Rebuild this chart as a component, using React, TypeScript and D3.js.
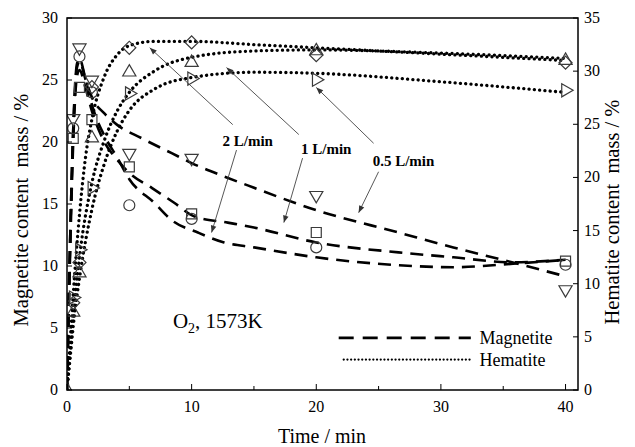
import React from "react";
import * as d3 from "d3";

// measured markers, magnetite (left axis)
const magTimes = [0.5, 1, 2, 5, 10, 20, 40];
const magCircle = [21.1, 26.9, 24.0, 14.9, 13.8, 11.5, 10.1]; // 2 L/min
const magSquare = [20.3, 24.4, 21.8, 18.0, 14.2, 12.7, 10.4]; // 1 L/min
const magDown = [21.9, 27.6, 25.0, 19.1, 18.7, 15.7, 8.1]; // 0.5 L/min

// measured markers, hematite (right axis)
const hemTimes = [0, 0.5, 1, 2, 5, 10, 20, 40];
const hemDiamond = [null, 8.2, 12.0, 28.5, 32.2, 32.7, 31.5, 30.8]; // 2 L/min
const hemUp = [0, 7.3, 11.0, 23.7, 29.9, 30.8, 31.9, 31.0]; // 1 L/min
const hemRight = [null, 8.7, 13.2, 19.0, 27.9, 29.3, 29.2, 28.2]; // 0.5 L/min

// fitted curves, magnetite
const fitMag2T = [0, 0.25, 0.5, 0.8, 1, 1.5, 2, 3, 4, 5, 7, 8.4, 10.5, 12.6, 15, 20, 26, 31, 36, 40];
const fitMag2V = [0, 12, 21, 26.3, 26.7, 25, 23, 20.5, 18.8, 17, 15.1, 13.7, 12.7, 11.9, 11.5, 10.7, 10.1, 9.9, 10.2, 10.5];
const fitMag1T = [0, 0.25, 0.5, 0.8, 1, 1.5, 2, 3, 4, 5, 6.8, 8.6, 10.2, 12.9, 15, 20, 26.6, 31, 35.7, 40];
const fitMag1V = [0, 11, 20, 25.3, 25.8, 24.3, 22.5, 20, 18.6, 17.5, 16.3, 15.1, 14.0, 13.5, 13.1, 11.9, 11.1, 10.7, 10.3, 10.5];
const fitMag05T = [0, 0.25, 0.5, 0.8, 1, 1.5, 2, 3, 4, 6, 8.4, 10, 12.4, 14.5, 20, 26.6, 31, 35.7, 39.5];
const fitMag05V = [0, 12, 21, 26, 26.5, 25, 23.6, 22.3, 21.4, 20.3, 19.1, 18.3, 17.3, 16.5, 14.5, 12.7, 11.5, 10.3, 9.3];

// fitted curves, hematite
const fitHem2T = [0, 0.25, 0.5, 1, 1.5, 2, 3, 4, 5, 7, 10, 15, 20, 30, 40];
const fitHem2V = [0, 4.5, 9, 16.5, 22, 25.5, 29.5, 31.5, 32.4, 32.8, 32.8, 32.5, 32.2, 31.6, 31.0];
const fitHem1T = [0, 0.25, 0.5, 1, 2, 3, 4, 5, 7, 10, 15, 20, 30, 40];
const fitHem1V = [0, 3.5, 7, 12.5, 19.5, 23.5, 26.2, 28, 30, 31.3, 31.9, 32.0, 31.7, 31.2];
const fitHem05T = [0, 0.25, 0.5, 1, 2, 3, 4, 5, 7, 10, 15, 20, 30, 40];
const fitHem05V = [0, 3, 6, 10.5, 17, 21.3, 24.3, 26.3, 28.3, 29.4, 29.9, 29.8, 29.0, 28.0];

const xTicks = [0, 10, 20, 30, 40];
const xMinor = [5, 15, 25, 35];
const leftTicks = [0, 5, 10, 15, 20, 25, 30];
const rightTicks = [0, 5, 10, 15, 20, 25, 30, 35];

// annotations in (time, magnetite %) units
const flowLabels = [
  { text: "2 L/min", t: 14.5, v: 19.7 },
  { text: "1 L/min", t: 20.8, v: 19.0 },
  { text: "0.5 L/min", t: 27.0, v: 18.1 },
];
const arrows = [
  [13.3, 21.4, 6.64, 27.6],
  [13.6, 19.35, 11.6, 12.7],
  [18.6, 20.6, 12.8, 26.0],
  [18.9, 18.7, 17.4, 13.5],
  [24.6, 19.9, 20.0, 24.4],
  [25.0, 17.6, 23.4, 14.3],
];

const width = 635;
const height = 447;
const margin = { top: 18, right: 57, bottom: 57, left: 67 };
const serif = { fontFamily: "'Liberation Serif', 'Times New Roman', Times, serif" };

export default function App() {
  const x = d3.scaleLinear().domain([0, 41]).range([margin.left, width - margin.right]);
  const yL = d3.scaleLinear().domain([0, 30]).range([height - margin.bottom, margin.top]);
  const yR = d3.scaleLinear().domain([0, 35]).range([height - margin.bottom, margin.top]);
  const x0 = x(0), x1 = x(41), yb = yL(0), yt = yL(30);

  const lineL = d3.line<[number, number]>().x(d => x(d[0])).y(d => yL(d[1])).curve(d3.curveMonotoneX);
  const lineR = d3.line<[number, number]>().x(d => x(d[0])).y(d => yR(d[1])).curve(d3.curveMonotoneX);
  const zip = (t: number[], v: number[]) => t.map((d, i) => [d, v[i]] as [number, number]);

  const dash = "13 8";
  const dot = "0.1 5.2";

  const symPath = (type: d3.SymbolType, size: number) => d3.symbol().type(type).size(size)() as string;
  const circ = symPath(d3.symbolCircle, 95);
  const sq = symPath(d3.symbolSquare, 100);
  const dia = symPath(d3.symbolSquare, 85);
  const tri = symPath(d3.symbolTriangle, 75);

  const markers = (
    times: number[],
    vals: (number | null)[],
    y: d3.ScaleLinear<number, number>,
    path: string,
    rot: number,
    key: string
  ) =>
    times.map((t, i) =>
      vals[i] == null ? null : (
        <path
          key={key + i}
          d={path}
          transform={`translate(${x(t)},${y(vals[i] as number)}) rotate(${rot})`}
          fill="none"
          stroke="#3a3a3a"
          strokeWidth={1.2}
        />
      )
    );

  return (
    <svg width={width} height={height} style={{ position: "absolute", left: 0, top: 0, background: "#fff", ...serif }}>
      <defs>
        <marker id="ah" viewBox="0 0 10 10" refX="10" refY="5" markerWidth="9" markerHeight="7" orient="auto" markerUnits="userSpaceOnUse">
          <path d="M0,1 L10,5 L0,9 Z" fill="#333" />
        </marker>
        <clipPath id="plot">
          <rect x={x0} y={yt} width={x1 - x0} height={yb - yt} />
        </clipPath>
      </defs>

      <g clipPath="url(#plot)">
        <path d={lineL(zip(fitMag2T, fitMag2V)) as string} fill="none" stroke="#000" strokeWidth={2.6} strokeDasharray={dash} />
        <path d={lineL(zip(fitMag1T, fitMag1V)) as string} fill="none" stroke="#000" strokeWidth={2.6} strokeDasharray={dash} />
        <path d={lineL(zip(fitMag05T, fitMag05V)) as string} fill="none" stroke="#000" strokeWidth={2.6} strokeDasharray={dash} />
        <path d={lineR(zip(fitHem2T, fitHem2V)) as string} fill="none" stroke="#000" strokeWidth={3.3} strokeDasharray={dot} strokeLinecap="round" />
        <path d={lineR(zip(fitHem1T, fitHem1V)) as string} fill="none" stroke="#000" strokeWidth={3.3} strokeDasharray={dot} strokeLinecap="round" />
        <path d={lineR(zip(fitHem05T, fitHem05V)) as string} fill="none" stroke="#000" strokeWidth={3.3} strokeDasharray={dot} strokeLinecap="round" />

        {markers(magTimes, magCircle, yL, circ, 0, "c")}
        {markers(magTimes, magSquare, yL, sq, 0, "s")}
        {markers(magTimes, magDown, yL, tri, 180, "d")}
        {markers(hemTimes, hemDiamond, yR, dia, 45, "di")}
        {markers(hemTimes, hemUp, yR, tri, 0, "u")}
        {markers(hemTimes, hemRight, yR, tri, 90, "r")}
      </g>

      {arrows.map((a, i) => (
        <line key={"a" + i} x1={x(a[0])} y1={yL(a[1])} x2={x(a[2])} y2={yL(a[3])} stroke="#444" strokeWidth={0.9} markerEnd="url(#ah)" />
      ))}
      {flowLabels.map(l => (
        <text key={l.text} x={x(l.t)} y={yL(l.v)} textAnchor="middle" fontSize={15} fontWeight="bold" style={serif}>
          {l.text}
        </text>
      ))}

      <text x={x(8.5)} y={yL(5.0)} fontSize={21} style={serif}>
        O<tspan fontSize={14} dy={5}>2</tspan>
        <tspan dy={-5}>, 1573K</tspan>
      </text>

      {/* legend */}
      <line x1={x(21.8)} x2={x(32.4)} y1={yL(4.2)} y2={yL(4.2)} stroke="#000" strokeWidth={2.6} strokeDasharray="15 9" />
      <text x={x(33.1)} y={yL(4.2) + 6} fontSize={18} style={serif}>Magnetite</text>
      <line x1={x(22.2)} x2={x(32.4)} y1={yL(2.45)} y2={yL(2.45)} stroke="#000" strokeWidth={2.2} strokeDasharray="0.1 3.6" strokeLinecap="round" />
      <text x={x(33.1)} y={yL(2.45) + 6} fontSize={18} style={serif}>Hematite</text>

      {/* frame */}
      <rect x={x0} y={yt} width={x1 - x0} height={yb - yt} fill="none" stroke="#000" strokeWidth={1.5} />

      {xTicks.map(t => (
        <g key={"x" + t}>
          <line x1={x(t)} x2={x(t)} y1={yb} y2={yb - 6} stroke="#000" strokeWidth={1} />
          <text x={x(t)} y={yb + 22} textAnchor="middle" fontSize={16} style={serif}>{t}</text>
        </g>
      ))}
      {xMinor.map(t => (
        <line key={"xm" + t} x1={x(t)} x2={x(t)} y1={yb} y2={yb - 4} stroke="#000" strokeWidth={1} />
      ))}
      {leftTicks.map(v => (
        <g key={"l" + v}>
          <line x1={x0} x2={x0 + 5} y1={yL(v)} y2={yL(v)} stroke="#000" strokeWidth={1} />
          <text x={x0 - 9} y={yL(v) + 5} textAnchor="end" fontSize={16} style={serif}>{v}</text>
        </g>
      ))}
      {rightTicks.map(v => (
        <g key={"r" + v}>
          <line x1={x1} x2={x1 - 5} y1={yR(v)} y2={yR(v)} stroke="#000" strokeWidth={1} />
          <text x={x1 + 6} y={yR(v) + 5} textAnchor="start" fontSize={16} style={serif}>{v}</text>
        </g>
      ))}

      <text x={322} y={443} textAnchor="middle" fontSize={20} style={serif}>Time / min</text>
      <text transform={`translate(28,${(yt + yb) / 2 + 6}) rotate(-90)`} textAnchor="middle" fontSize={20.5} style={{ ...serif, whiteSpace: "pre" }}>
        {"Magnetite content  mass / %"}
      </text>
      <text transform={`translate(619,${(yt + yb) / 2 + 8}) rotate(-90)`} textAnchor="middle" fontSize={20.5} style={{ ...serif, whiteSpace: "pre" }}>
        {"Hematite content  mass / %"}
      </text>
    </svg>
  );
}
